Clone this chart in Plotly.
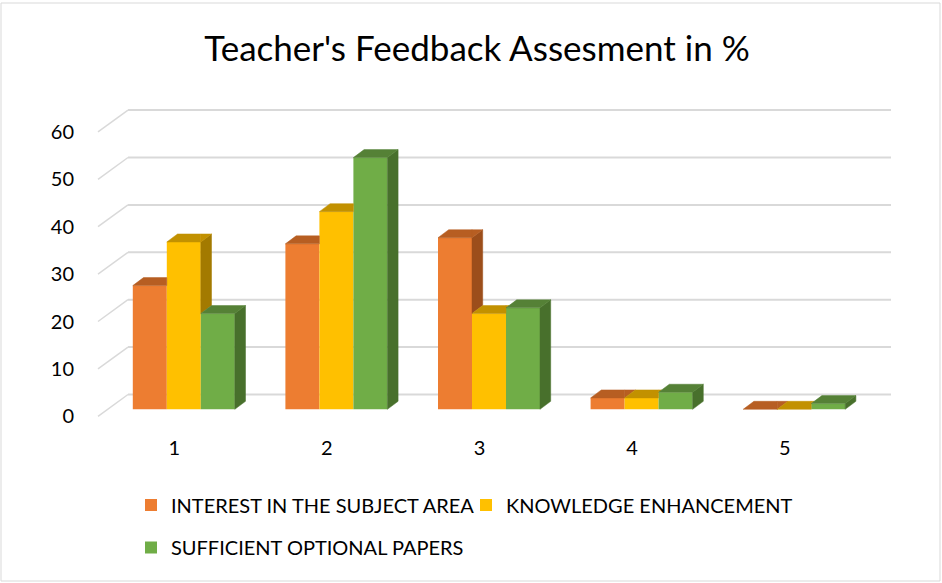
import plotly.graph_objects as go

# ---------------- data ----------------
categories = ["1", "2", "3", "4", "5"]
series_names = ["INTEREST IN THE SUBJECT AREA", "KNOWLEDGE ENHANCEMENT", "SUFFICIENT OPTIONAL PAPERS"]
interest = [26.1, 34.9, 36.2, 2.4, 0.0]
knowledge = [35.3, 41.7, 20.2, 2.4, 0.0]
optional = [20.2, 53.1, 21.4, 3.6, 1.2]
y_ticks = [0, 10, 20, 30, 40, 50, 60]
title_text = "Teacher's Feedback Assesment in %"

# ---------------- style ----------------
front_colors = ["#ED7D31", "#FFC000", "#70AD47"]
top_colors = ["#B75E22", "#C29100", "#558136"]
side_colors = ["#9C4E1B", "#A37A00", "#48702C"]
grid_color = "#D9D9D9"
FONT = "Lato"

W, H = 942, 583
L, R, T, B = 84, 905, 90, 440           # plot area in px
CAT_PX = 152.6                          # px per category
BAR_X0 = 107.5                          # px of left edge (category -0.5) on bar plane
FRONT_X0 = 98.0                         # same on front plane
BACK_X0 = 128.0                         # same on back wall
Y_PX = 4.74                             # px per unit
BAR_Y0 = 409.3                          # px of value 0 on bar plane
FRONT_Y0 = 416.3
BACK_Y0 = 394.5
BAR_W = 34.0 / CAT_PX                   # bar width in category units
DDX = 10.7 / CAT_PX                     # bar depth projection
DDY = 8.0 / Y_PX


def px2x(p, x0=BAR_X0):
    return -0.5 + (p - x0) / CAT_PX


def px2y(p, y0=BAR_Y0):
    return (y0 - p) / Y_PX


# offsets of the walls relative to the bar plane, in data units
FRONT_DX = (FRONT_X0 - BAR_X0) / CAT_PX
FRONT_DY = (BAR_Y0 - FRONT_Y0) / Y_PX
BACK_DX = (BACK_X0 - BAR_X0) / CAT_PX
BACK_DY = (BAR_Y0 - BACK_Y0) / Y_PX


def clip(poly, f):
    """Sutherland-Hodgman clip of polygon by half-plane f(p) >= 0."""
    out = []
    n = len(poly)
    for i in range(n):
        a, b = poly[i], poly[(i + 1) % n]
        fa, fb = f(a), f(b)
        if fa >= 0:
            out.append(a)
        if (fa >= 0) != (fb >= 0):
            t = fa / (fa - fb)
            out.append((a[0] + t * (b[0] - a[0]), a[1] + t * (b[1] - a[1])))
    return out


values = [interest, knowledge, optional]
xs = list(range(len(categories)))
slope = DDY / DDX

fig = go.Figure()

# front faces as bars
legends = ["legend", "legend2", "legend3"]
for k, (name, vals) in enumerate(zip(series_names, values)):
    fig.add_trace(go.Bar(
        x=xs, y=vals, width=BAR_W, offset=-1.5 * BAR_W + k * BAR_W,
        name=name, marker=dict(color=front_colors[k], line=dict(width=0)),
        legend=legends[k], hoverinfo="skip",
    ))

# top and side faces, clipped against the next bar's silhouette
for i in xs:
    for k in range(3):
        v = values[k][i]
        x0 = i - 1.5 * BAR_W + k * BAR_W
        x1 = x0 + BAR_W
        top = [(x0, v), (x1, v), (x1 + DDX, v + DDY), (x0 + DDX, v + DDY)]
        side = [(x1, 0), (x1 + DDX, DDY), (x1 + DDX, v + DDY), (x1, v)]
        tops, sides = [top], [side]
        if k < 2:
            nv = values[k + 1][i]
            vis = lambda p, nv=nv, x1=x1: p[1] - (nv + (p[0] - x1) * slope)
            left = lambda p, x1=x1: x1 - p[0]
            right = lambda p, x1=x1: p[0] - x1
            tops = [clip(top, left), clip(clip(top, right), vis)]
            sides = [clip(side, vis)]
        for polys, col in ((sides, side_colors[k]), (tops, top_colors[k])):
            for poly in polys:
                if len(poly) < 3:
                    continue
                px = [p[0] for p in poly] + [poly[0][0]]
                py = [p[1] for p in poly] + [poly[0][1]]
                fig.add_trace(go.Scatter(
                    x=px, y=py, mode="lines", fill="toself", fillcolor=col,
                    line=dict(width=0.5, color=col), showlegend=False, hoverinfo="skip",
                ))

# dummy trace to instantiate the label axes (front plane)
fig.add_trace(go.Scatter(x=[None], y=[None], xaxis="x2", yaxis="y2",
                         showlegend=False, hoverinfo="skip"))

# gridlines: side wall diagonals + back wall horizontals
shapes = []
xl_front = -0.5 + FRONT_DX
xl_back = -0.5 + BACK_DX
xr_back = len(categories) - 0.5 + BACK_DX
for t in y_ticks:
    shapes.append(dict(type="line", xref="x", yref="y", layer="below",
                       x0=xl_front, y0=t + FRONT_DY, x1=xl_back, y1=t + BACK_DY,
                       line=dict(color=grid_color, width=1.5)))
    shapes.append(dict(type="line", xref="x", yref="y", layer="below",
                       x0=xl_back, y0=t + BACK_DY, x1=xr_back, y1=t + BACK_DY,
                       line=dict(color=grid_color, width=2)))


# chart border
def xp(p):
    return (p - L) / (R - L)


def yp(p):
    return (B - p) / (B - T)


shapes.append(dict(type="rect", xref="paper", yref="paper", layer="below",
                   x0=xp(1), x1=xp(940), y0=yp(3), y1=yp(581),
                   line=dict(color="#D9D9D9", width=1)))

legend_style = dict(orientation="h", xref="paper", yref="paper", xanchor="left", yanchor="middle",
                    font=dict(family=FONT, size=20, color="#000000"), bgcolor="rgba(0,0,0,0)",
                    itemclick=False, itemdoubleclick=False)

fig.update_layout(
    width=W, height=H,
    margin=dict(l=L, r=W - R, t=T, b=H - B),
    paper_bgcolor="white", plot_bgcolor="white",
    barmode="overlay",
    shapes=shapes,
    title=dict(text=title_text, x=477 / W, xanchor="center", y=1 - 49 / H, yanchor="middle",
               yref="container", font=dict(family=FONT, size=35, color="#000000")),
    xaxis=dict(range=[px2x(L), px2x(R)], visible=False, fixedrange=True),
    yaxis=dict(range=[px2y(B), px2y(T)], visible=False, fixedrange=True),
    xaxis2=dict(overlaying="x", range=[px2x(L, FRONT_X0), px2x(R, FRONT_X0)],
                tickvals=xs, ticktext=categories, showgrid=False, zeroline=False,
                showline=False, ticks="", tickfont=dict(family=FONT, size=20, color="#000000"),
                side="bottom", anchor="free", position=yp(434), fixedrange=True),
    yaxis2=dict(overlaying="y", range=[px2y(B, FRONT_Y0), px2y(T, FRONT_Y0)],
                tickvals=y_ticks, showgrid=False, zeroline=False, showline=False, ticks="",
                tickfont=dict(family=FONT, size=20, color="#000000"), side="left",
                anchor="x2", ticklabelstandoff=9, fixedrange=True),
    legend=dict(x=xp(131), y=yp(505), **legend_style),
    legend2=dict(x=xp(466), y=yp(505), **legend_style),
    legend3=dict(x=xp(131), y=yp(547.5), **legend_style),
    showlegend=True,
)

fig.write_html("out.html", post_script="document.body.style.margin='0px';",
               config={"displayModeBar": False})
